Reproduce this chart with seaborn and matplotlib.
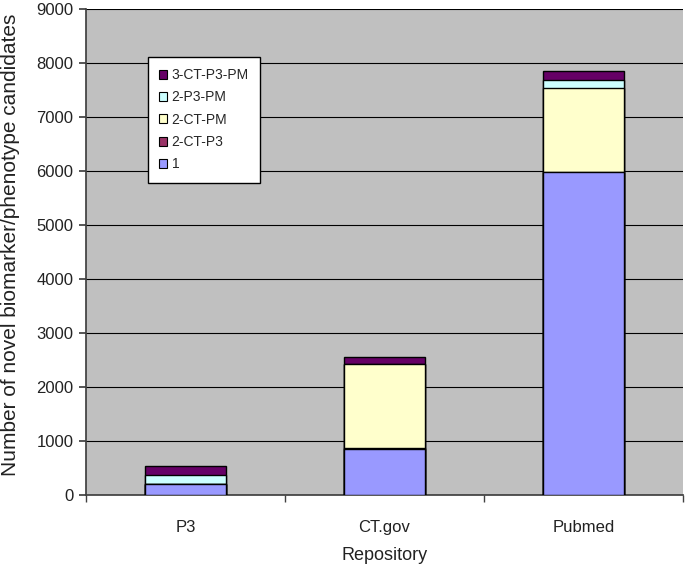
import matplotlib
matplotlib.use("Agg")
import matplotlib.pyplot as plt
import seaborn as sns
import pandas as pd
import numpy as np
from matplotlib.patches import Patch

repos = ["P3", "CT.gov", "Pubmed"]
series_names = ["1", "2-CT-P3", "2-CT-PM", "2-P3-PM", "3-CT-P3-PM"]
s1 = [200, 850, 5980]
s2_ct_p3 = [0, 20, 0]
s2_ct_pm = [0, 1550, 1550]
s2_p3_pm = [170, 0, 155]
s3 = [170, 140, 165]
colors = ["#9999FF", "#993366", "#FFFFCC", "#CCFFFF", "#660066"]

sns.set_theme(style="white")
plt.rcParams['font.family'] = ['Liberation Sans', 'DejaVu Sans']

values = [s1, s2_ct_p3, s2_ct_pm, s2_p3_pm, s3]
cum = np.cumsum(np.array(values), axis=0)

fig = plt.figure(figsize=(6.85, 5.67), dpi=100)
ax = fig.add_axes([86/685, 1-495/567, 597/685, 486/567])
ax.set_facecolor("#C0C0C0")

for i in range(len(series_names) - 1, -1, -1):
    df = pd.DataFrame({"Repository": repos, "value": cum[i]})
    sns.barplot(data=df, x="Repository", y="value", color=colors[i],
                saturation=1, width=0.41, edgecolor="black", linewidth=1,
                ax=ax, zorder=3)

ax.set_ylim(0, 9000)
ax.set_xlim(-0.5, 2.5)
ax.set_yticks(range(0, 9001, 1000))
ax.yaxis.grid(True, color="black", linewidth=0.8, zorder=0)
ax.set_axisbelow(True)
for sp in ["top", "right"]:
    ax.spines[sp].set_visible(False)
ax.spines["left"].set_color("#404040")
ax.spines["bottom"].set_color("#404040")
ax.tick_params(axis="y", which="both", left=True, length=5, color="#404040",
               labelsize=12, labelcolor="#222222", pad=4)
ax.tick_params(axis="x", bottom=False, labelsize=12, labelcolor="#222222", pad=12)
ax.set_xticks([-0.5, 0.5, 1.5, 2.5], minor=True)
ax.tick_params(axis="x", which="minor", bottom=True, length=5, color="#404040")
ax.set_xlabel("Repository", fontsize=13, color="#222222", labelpad=9)
ax.set_ylabel("Number of novel biomarker/phenotype candidates", fontsize=15,
              color="#222222")
ax.yaxis.set_label_coords((20 - 86) / 597, (495 - 245) / 486)

handles = [Patch(facecolor=colors[i], edgecolor="black", linewidth=0.8,
                 label=series_names[i]) for i in range(len(series_names) - 1, -1, -1)]
leg = ax.legend(handles=handles, loc="upper left",
                bbox_to_anchor=((148-86)/597, 1-(57-9)/486), borderaxespad=0,
                frameon=True, fancybox=False, edgecolor="black", facecolor="white",
                fontsize=10, handlelength=0.6, handleheight=0.6, handletextpad=0.3,
                labelspacing=0.6, borderpad=0.8, framealpha=1)
leg.get_frame().set_linewidth(1)

fig.savefig("out.png", dpi=100)
